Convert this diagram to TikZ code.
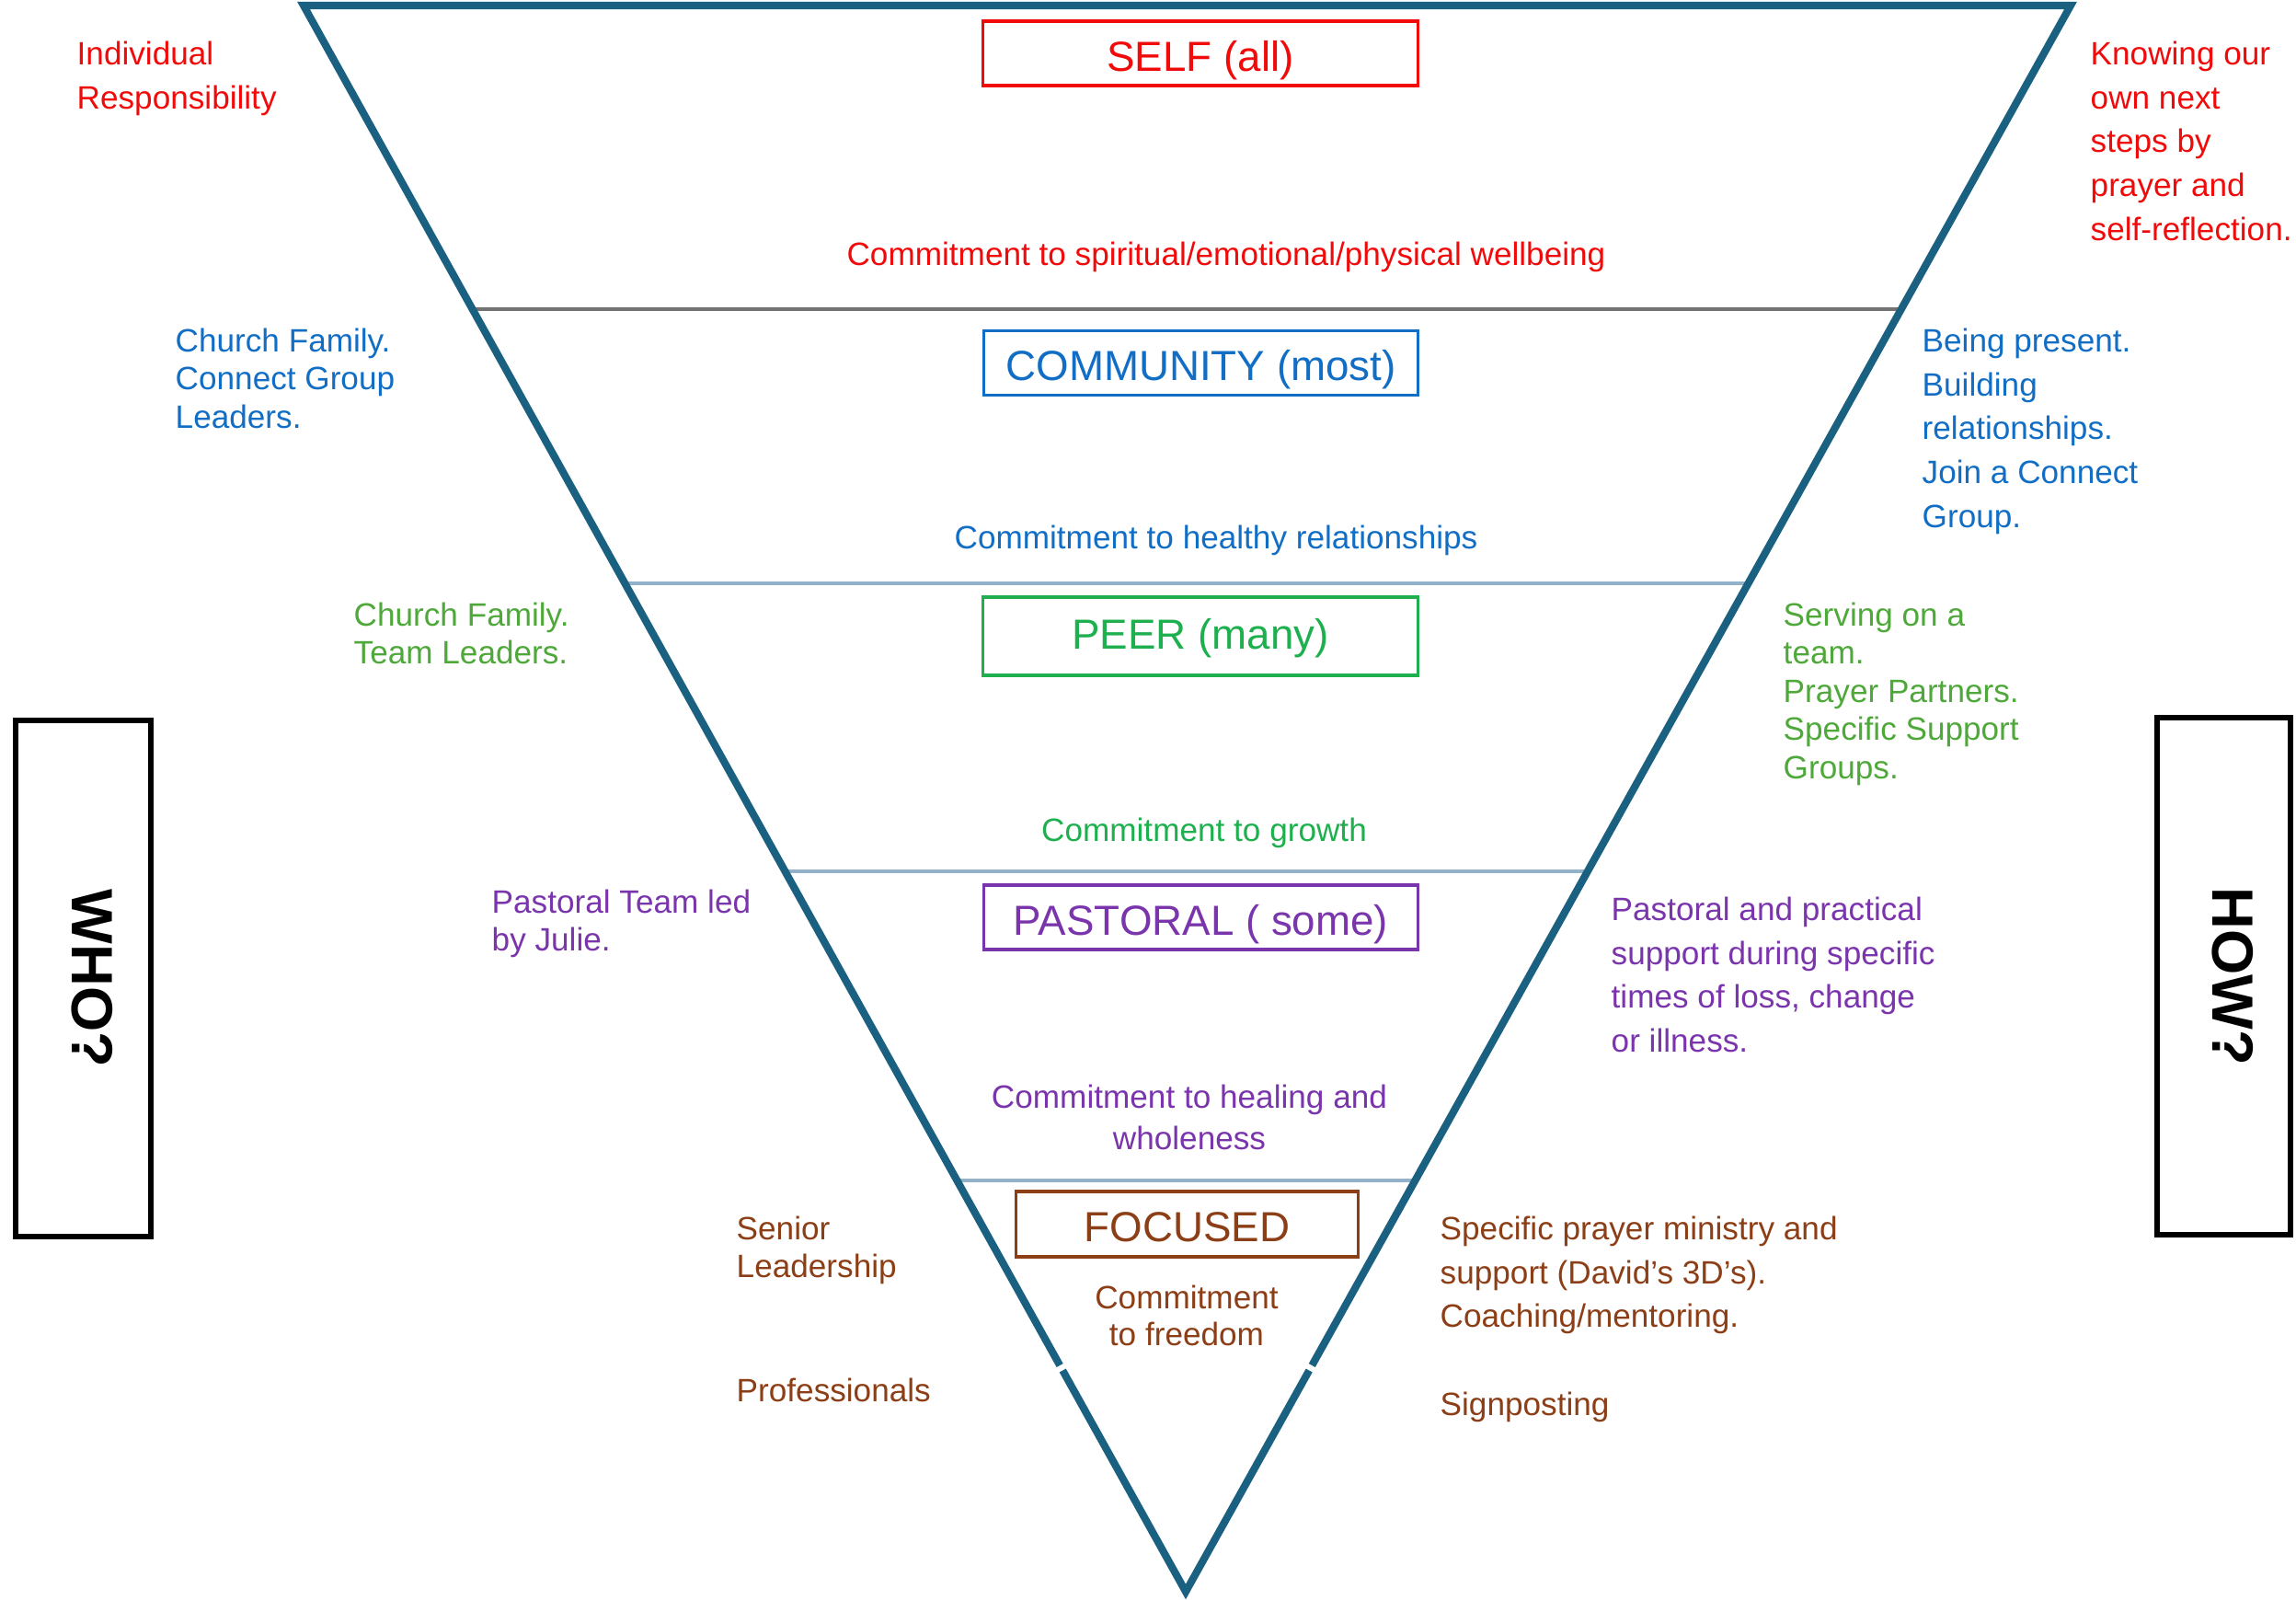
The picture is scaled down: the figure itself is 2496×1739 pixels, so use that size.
\documentclass[tikz,border=0pt]{standalone}
\usepackage{fontspec}
\setmainfont{Liberation Sans}
\usetikzlibrary{calc}

\definecolor{tricol}{RGB}{26,96,128}
\definecolor{selfred}{RGB}{240,10,10}
\definecolor{commblue}{RGB}{17,110,196}
\definecolor{peergreen}{RGB}{30,176,78}
\definecolor{olivegreen}{RGB}{78,168,58}
\definecolor{pastpurple}{RGB}{122,52,172}
\definecolor{focbrown}{RGB}{140,62,22}
\definecolor{divgray}{RGB}{115,115,115}
\definecolor{divblue}{RGB}{145,178,200}

\begin{document}
\begin{tikzpicture}[x=0.01cm,y=-0.01cm,
    levelbox/.style={draw,line width=0.9pt,inner sep=0pt,minimum width=4.72cm,
      minimum height=0.7cm,text height=14pt,text depth=3pt,font=\fontsize{13}{15}\selectfont},
    side/.style={anchor=north west,inner sep=0pt,align=left,font=\fontsize{10}{13.6}\selectfont},
    sidetight/.style={side,font=\fontsize{10}{11.8}\selectfont},
    pledge/.style={anchor=north,inner sep=0pt,align=center,font=\fontsize{10}{13}\selectfont},
    question/.style={draw,line width=1.7pt,inner sep=0pt,minimum width=1.47cm,minimum height=5.61cm},
    asklabel/.style={rotate=-90,inner sep=0pt,font=\fontsize{18}{20}\selectfont\bfseries}]
  \useasboundingbox (0,0) rectangle (2496,1739);

  \coordinate (tl) at (330,6);
  \coordinate (tr) at (2251,6);
  \coordinate (apex) at (1289,1730);

  \foreach \t/\c in {0.1914/divgray,0.3643/divblue,0.5458/divblue,0.7407/divblue}
    \draw[\c,line width=0.9pt] ($(tl)!\t!(apex)$) -- ($(tr)!\t!(apex)$);

  \draw[tricol,line width=2.3pt] ($(tl)!0.8573!(apex)$) -- (tl) -- (tr) -- ($(tr)!0.8573!(apex)$);
  \draw[tricol,line width=2.3pt] ($(tl)!0.8605!(apex)$) -- (apex) -- ($(tr)!0.8605!(apex)$);

  \node[levelbox,selfred] (self) at (1305,58) {SELF (all)};
  \node[levelbox,commblue] (community) at (1305.5,394.5) {COMMUNITY (most)};
  \node[levelbox,peergreen,minimum height=0.85cm,text height=11pt] (peer) at (1305,691.5) {PEER (many)};
  \node[levelbox,pastpurple] (pastoral) at (1305.5,997) {PASTORAL ( some)};
  \node[levelbox,focbrown,minimum width=3.71cm,minimum height=0.71cm] (focused) at (1290.5,1330.5) {FOCUSED};

  \node[pledge,selfred] (selfpledge) at (1333,262) {Commitment to spiritual/emotional/physical wellbeing};
  \node[pledge,commblue] (commpledge) at (1322,570) {Commitment to healthy relationships};
  \node[pledge,peergreen] (peerpledge) at (1309,888) {Commitment to growth};
  \node[pledge,pastpurple] (pastpledge) at (1293,1178) {Commitment to healing and\\wholeness};
  \node[pledge,focbrown,font=\fontsize{10}{11.4}\selectfont] (focpledge) at (1290,1396) {Commitment\\to freedom};

  \node[side,selfred] (selfwho) at (83,44) {Individual\\Responsibility};
  \node[sidetight,commblue] (commwho) at (190,356) {Church Family.\\Connect Group\\Leaders.};
  \node[sidetight,olivegreen] (peerwho) at (384,654) {Church Family.\\Team Leaders.};
  \node[sidetight,pastpurple] (pastwho) at (534,966) {Pastoral Team led\\by Julie.};
  \node[sidetight,focbrown] (focwho) at (800,1321) {Senior\\Leadership};
  \node[side,focbrown] (focwhotwo) at (800,1497) {Professionals};

  \node[side,selfred] (selfhow) at (2272,44) {Knowing our\\own next\\steps by\\prayer and\\self-reflection.};
  \node[side,commblue] (commhow) at (2089,356) {Being present.\\Building\\relationships.\\Join a Connect\\Group.};
  \node[sidetight,olivegreen] (peerhow) at (1938,654) {Serving on a\\team.\\Prayer Partners.\\Specific Support\\Groups.};
  \node[side,pastpurple] (pasthow) at (1751,974) {Pastoral and practical\\support during specific\\times of loss, change\\or illness.};
  \node[side,focbrown] (fochow) at (1565,1321) {Specific prayer ministry and\\support (David’s 3D’s).\\Coaching/mentoring.};
  \node[side,focbrown] (fochowtwo) at (1565,1512) {Signposting};

  \node[question] (whobox) at (90.5,1063.5) {};
  \node[asklabel] (who) at ($(whobox.center)+(10,0)$) {WHO?};
  \node[question,minimum width=1.45cm,minimum height=5.62cm] (howbox) at (2417.5,1061) {};
  \node[asklabel] (how) at ($(howbox.center)+(10,0)$) {HOW?};
\end{tikzpicture}
\end{document}
